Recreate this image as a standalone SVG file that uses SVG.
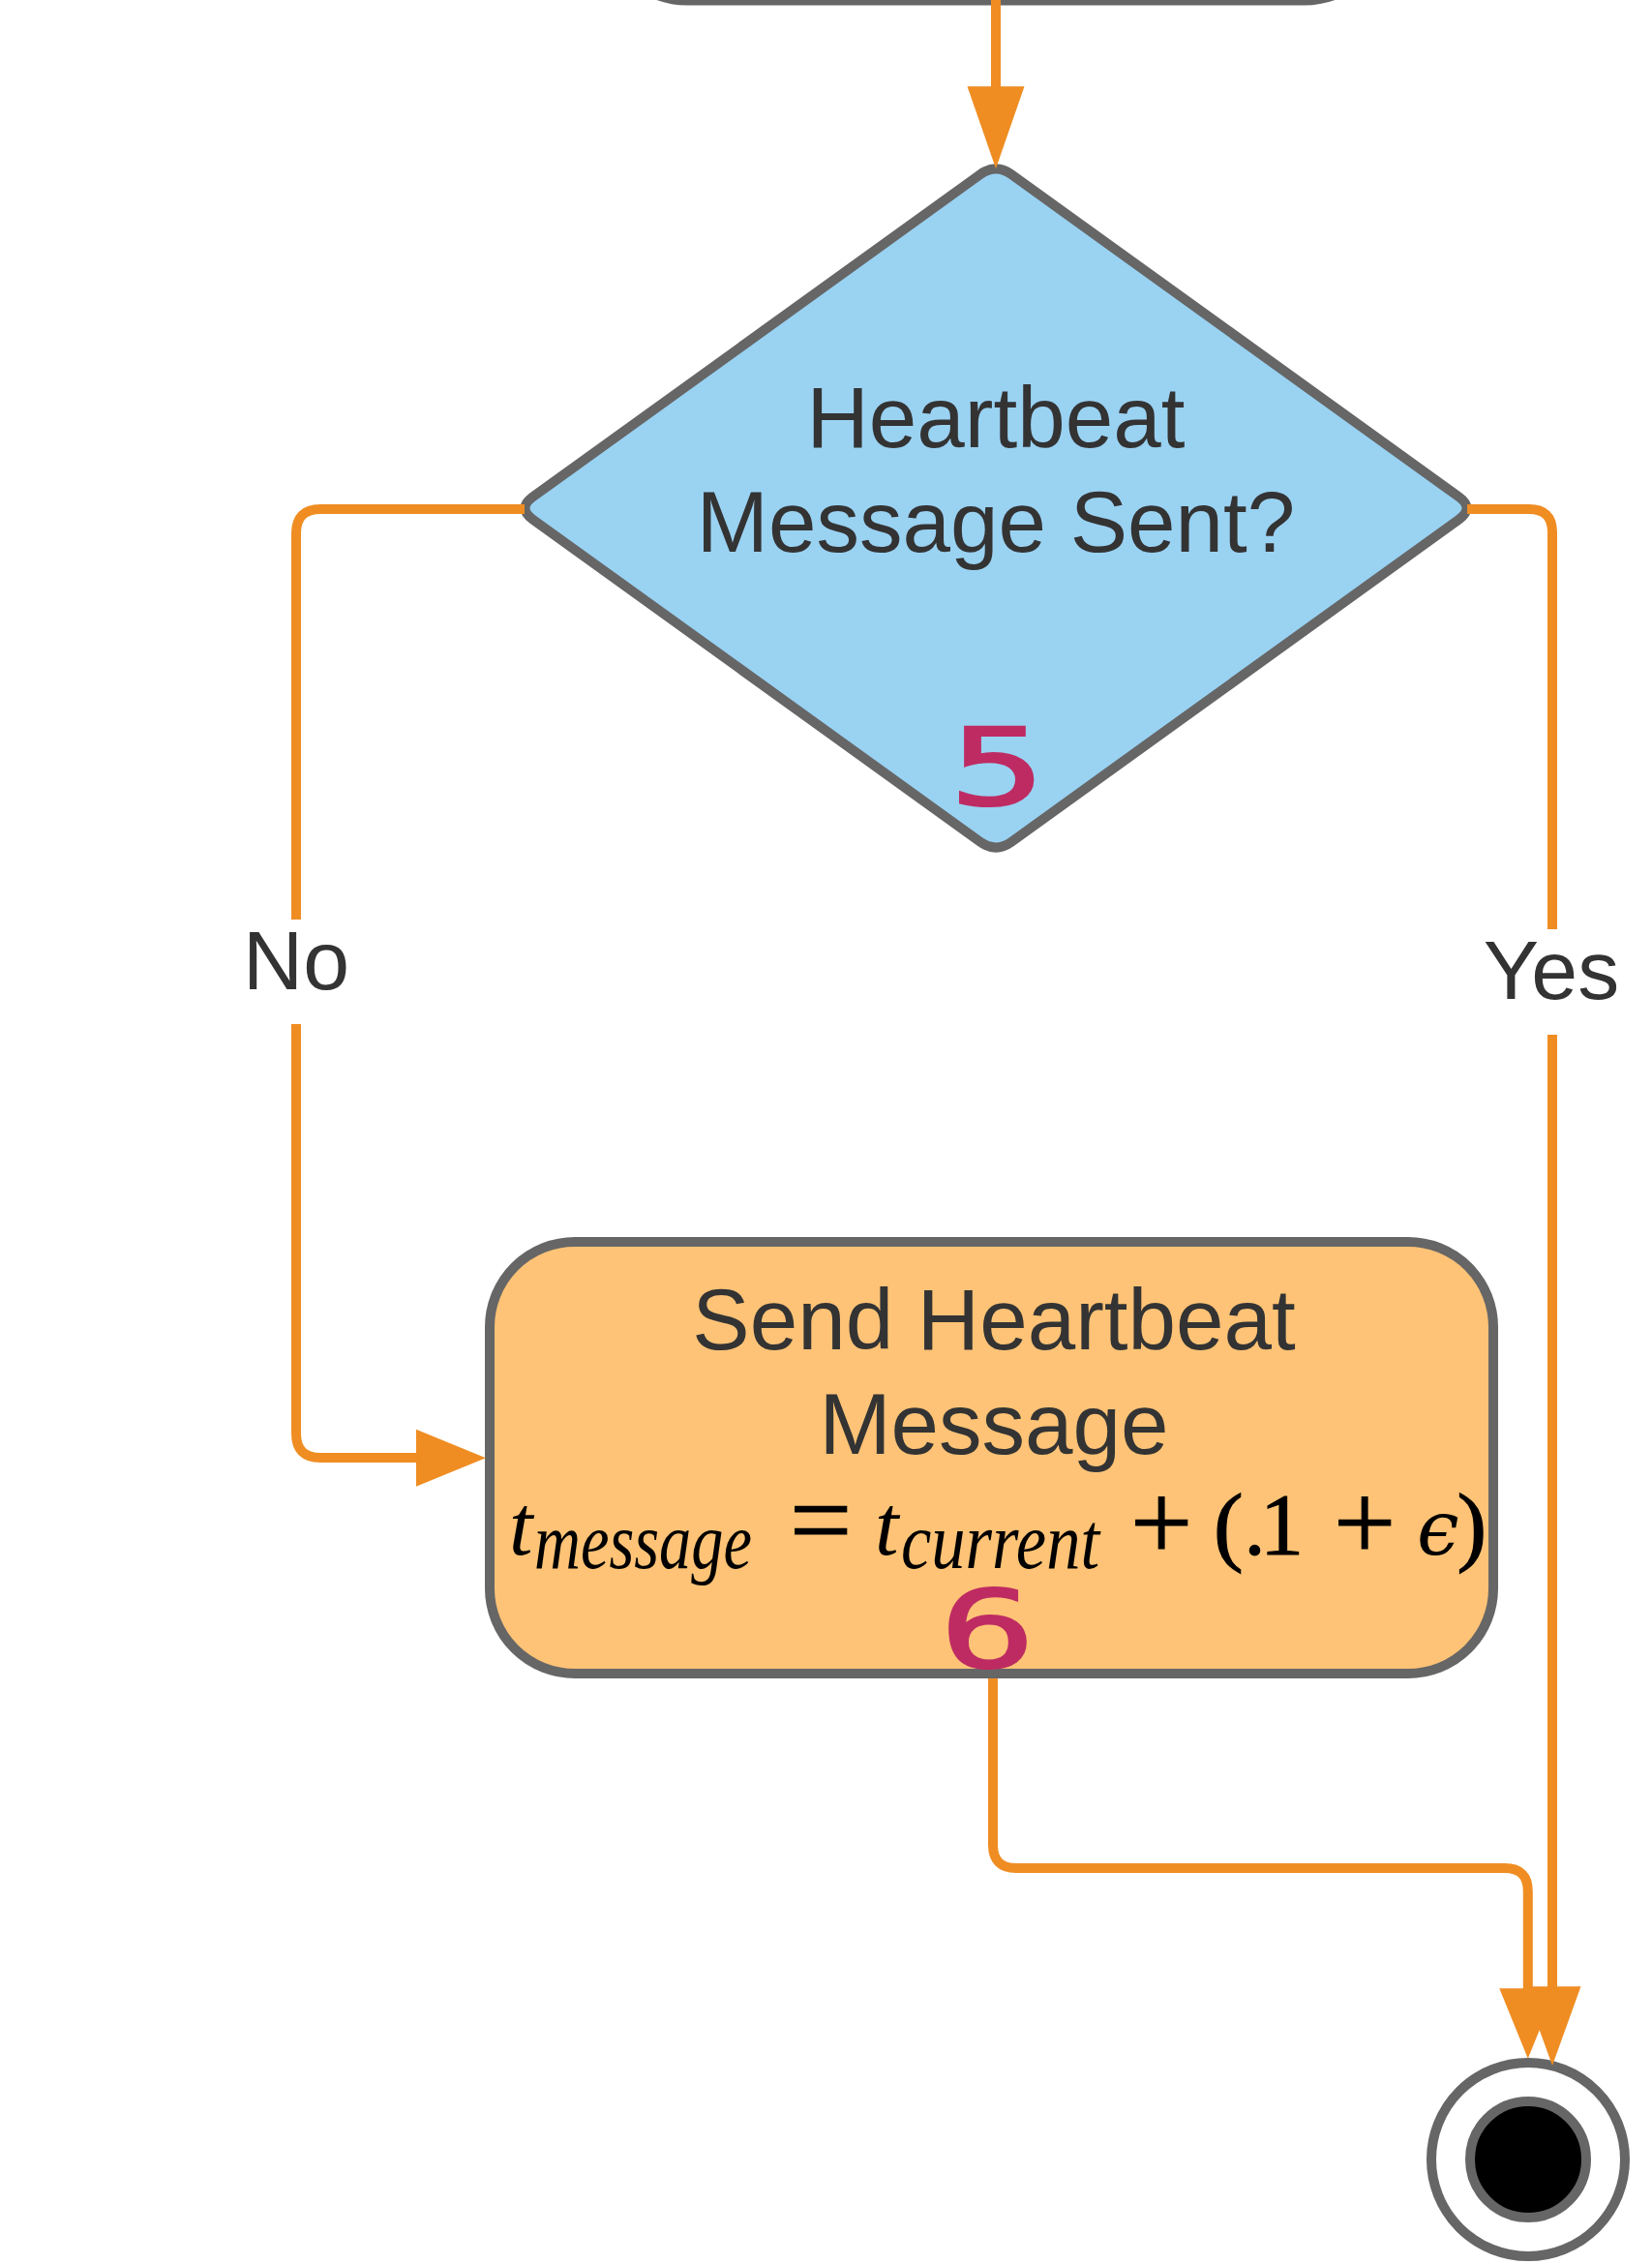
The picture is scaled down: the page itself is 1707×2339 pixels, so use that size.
<svg xmlns="http://www.w3.org/2000/svg" width="1707" height="2339" viewBox="0 0 1707 2339">
<style>
.conn{fill:none;stroke:#EF8D22;stroke-width:10}
.arrow{fill:#EF8D22}
.shape{stroke:#666666;stroke-width:10}
.lbl{font-family:"Liberation Sans",Arial,sans-serif;font-size:89px;fill:#333333;text-anchor:middle}
.elbl{font-family:"Liberation Sans",Arial,sans-serif;font-size:86px;fill:#333333;text-anchor:middle}
.num{font-family:"DejaVu Sans Mono",monospace;font-size:110px;fill:#BE2B62;stroke:#BE2B62;stroke-width:2}
.mi{font-family:"Liberation Serif","Times New Roman",serif;font-style:italic;font-size:88px;fill:#000}
.sub{font-family:"Liberation Serif","Times New Roman",serif;font-style:italic;font-size:82px;fill:#000}
.mo{font-family:"Liberation Serif","Times New Roman",serif;fill:#000;stroke:#000;stroke-width:1.2}
</style>
<rect width="1707" height="2339" fill="#FFFFFF"/>

<g id="node-top">
<rect class="shape" x="622" y="-300" width="814" height="300.5" rx="88" fill="#FFFFFF"/>
</g>

<g id="node-decision">
<path class="shape" fill="#9AD2F2" d="M1012.8,180.3 Q1029,168.6 1045.2,180.3 L1507.4,513.3 Q1523.6,525 1507.4,536.7 L1045.2,869.7 Q1029,881.4 1012.8,869.7 L550.6,536.7 Q534.4,525 550.6,513.3 Z"/>
<text class="lbl" x="1029" y="462">Heartbeat</text>
<text class="lbl" x="1029" y="570">Message Sent?</text>
<text class="num" x="981" y="831" textLength="99" lengthAdjust="spacingAndGlyphs">5</text>
</g>

<g id="node-send">
<rect class="shape" x="506" y="1283" width="1037" height="446" rx="88" fill="#FEC376"/>
<text class="lbl" x="1027" y="1394">Send Heartbeat</text>
<text class="lbl" x="1027" y="1502">Message</text>
<g id="formula">
<text class="mi" x="526" y="1606">t</text>
<text class="sub" x="552" y="1620" textLength="225" lengthAdjust="spacingAndGlyphs">message</text>
<text class="mo" x="816" y="1609" font-size="114">=</text>
<text class="mi" x="904" y="1606">t</text>
<text class="sub" x="931" y="1620" textLength="205" lengthAdjust="spacingAndGlyphs">current</text>
<text class="mo" x="1168" y="1611" font-size="114">+</text>
<text class="mo" x="1254" y="1605.5" font-size="92" stroke-width="0.5">(</text>
<text class="mo" x="1285.5" y="1606" font-size="88" stroke-width="0.5">.</text>
<text class="mo" x="1302" y="1606" font-size="90" stroke-width="0.5">1</text>
<text class="mo" x="1378" y="1611" font-size="114">+</text>
<text x="1464" y="1606" font-family="'DejaVu Serif','Liberation Serif',serif" font-style="italic" font-size="78" fill="#000">ϵ</text>
<text class="mo" x="1505.6" y="1605.5" font-size="92" stroke-width="0.5">)</text>
</g>
<text class="num" x="971" y="1722" textLength="99" lengthAdjust="spacingAndGlyphs">6</text>
</g>

<g id="node-end">
<circle class="shape" cx="1579" cy="2231" r="100" fill="#FFFFFF"/>
<circle cx="1579" cy="2231" r="60" fill="#000000" stroke="#666666" stroke-width="10"/>
</g>

<g id="connectors">
<path class="conn" d="M1029,0 L1029,92"/>
<polygon class="arrow" points="999.5,89.3 1058.5,89.3 1029,174.3"/>

<path class="conn" d="M542,526 L331,526 Q306,526 306,551 L306,1481 Q306,1506 331,1506 L433,1506"/>
<polygon class="arrow" points="430,1476.7 430,1535.7 502,1506.2"/>

<path class="conn" d="M1516,526 L1580,526 Q1604,526 1604,550 L1604,2055"/>
<polygon class="arrow" points="1574.5,2052.3 1633.5,2052.3 1604,2134"/>

<path class="conn" d="M1026,1734 L1026,1906 Q1026,1930 1050,1930 L1554.8,1930 Q1578.8,1930 1578.8,1954 L1578.8,2057"/>
<polygon class="arrow" points="1549.3,2054.3 1608.3,2054.3 1578.8,2126.7"/>
</g>

<g id="label-no">
<rect x="246" y="950" width="120" height="108" fill="#FFFFFF"/>
<text class="elbl" x="306" y="1022">No</text>
</g>
<g id="label-yes">
<rect x="1528" y="960" width="152" height="109" fill="#FFFFFF"/>
<text class="elbl" x="1603" y="1032">Yes</text>
</g>
</svg>
